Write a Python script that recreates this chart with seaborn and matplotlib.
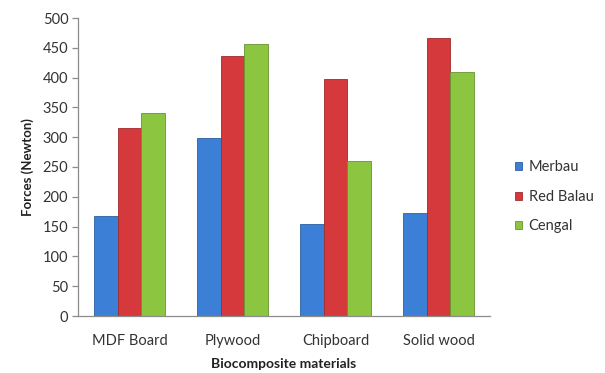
import matplotlib
matplotlib.use("Agg")
import matplotlib.pyplot as plt
import seaborn as sns
import pandas as pd

categories = ["MDF Board", "Plywood", "Chipboard", "Solid wood"]
merbau = [167, 298, 155, 173]
red_balau = [315, 436, 397, 467]
cengal = [341, 456, 260, 410]
series_names = ["Merbau", "Red Balau", "Cengal"]
y_ticks = [0, 50, 100, 150, 200, 250, 300, 350, 400, 450, 500]

rows = []
for name, vals in zip(series_names, [merbau, red_balau, cengal]):
    for c, v in zip(categories, vals):
        rows.append({"material": c, "series": name, "force": v})
df = pd.DataFrame(rows)

sns.set_theme(style="white")
plt.rcParams["font.family"] = ["Lato", "DejaVu Sans"]

fig = plt.figure(figsize=(6.05, 3.73), dpi=100)
ax = fig.add_axes([78/605, 1-316/373, (490-78)/605, (316-18)/373])

palette = {"Merbau": "#3b7fd6", "Red Balau": "#d6393b", "Cengal": "#8cc540"}
sns.barplot(data=df, x="material", y="force", hue="series", order=categories,
            hue_order=series_names, palette=palette, width=0.68, ax=ax,
            saturation=1, errorbar=None, linewidth=0)

for p in ax.patches:
    fc = p.get_facecolor()
    dark = tuple(c * 0.75 for c in fc[:3]) + (1,)
    p.set_edgecolor(dark)
    p.set_linewidth(0.6)

ax.set_ylim(0, 500)
ax.set_yticks(y_ticks)
ax.set_yticklabels([str(t) for t in y_ticks], fontsize=10.5, color="#333333")
ax.set_xticks(range(len(categories)))
ax.set_xticklabels(categories, fontsize=10.5, color="#333333")
ax.set_xlim(-0.5, 3.5)

for s in ["top", "right"]:
    ax.spines[s].set_visible(False)
for s in ["left", "bottom"]:
    ax.spines[s].set_color("#8c8c8c")
    ax.spines[s].set_linewidth(0.9)

ax.tick_params(axis="y", which="both", left=True, length=4, width=0.9,
               color="#8c8c8c", pad=3, direction="out")
ax.tick_params(axis="x", bottom=False, pad=7)

ax.set_ylabel("Forces (Newton)", fontsize=9.5, fontweight="bold", color="#222222", labelpad=6)
ax.set_xlabel("Biocomposite materials", fontsize=10, fontweight="bold", color="#222222", labelpad=7)

handles, labels = ax.get_legend_handles_labels()
leg = ax.legend(handles, labels, loc="center left", bbox_to_anchor=(1.03, 0.40),
                frameon=False, fontsize=10.5, handlelength=0.45, handleheight=0.45,
                handletextpad=0.45, labelspacing=1.05)
for t in leg.get_texts():
    t.set_color("#333333")

fig.savefig("out.png", dpi=100)
